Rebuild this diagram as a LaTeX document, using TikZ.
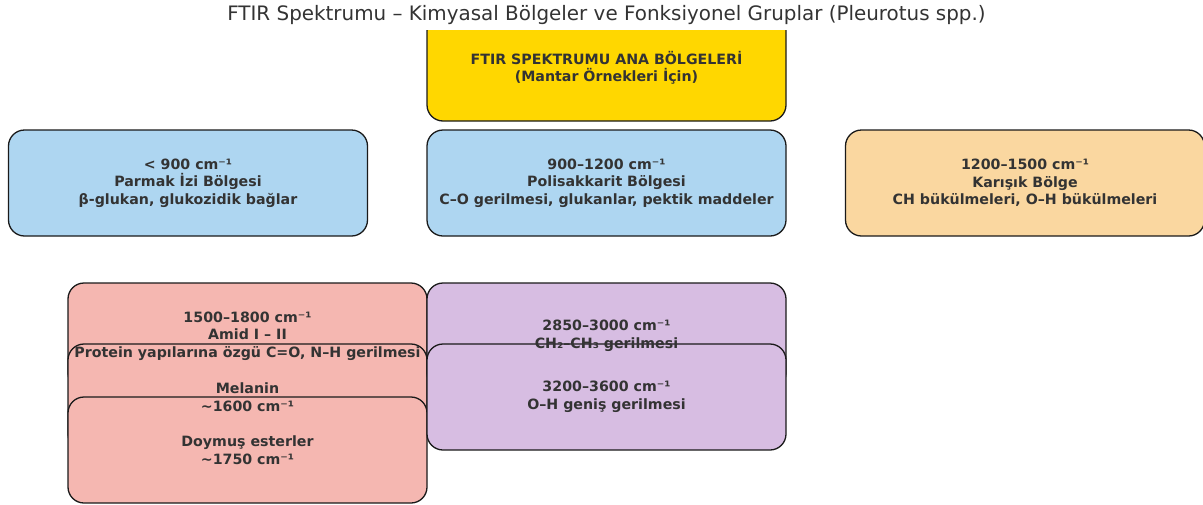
\documentclass[tikz,border=0pt]{standalone}
\usepackage{fontspec}
\setmainfont{DejaVu Sans}
\definecolor{cgold}{HTML}{FFD700}
\definecolor{cblue}{HTML}{AED6F1}
\definecolor{corange}{HTML}{FAD7A0}
\definecolor{cred}{HTML}{F5B7B1}
\definecolor{cpurple}{HTML}{D7BDE2}
\definecolor{cedge}{HTML}{1A1A1A}
\definecolor{ctext}{HTML}{333333}
\tikzset{
  regionbox/.style={rectangle, rounded corners=16pt, minimum width=359pt, minimum height=106pt,
    draw=cedge, line width=1.3pt, inner sep=0pt},
  regionlabel/.style={text=ctext, align=center, font=\bfseries\fontsize{14.2}{17.5}\selectfont, inner sep=0pt},
  titlelabel/.style={text=ctext, font=\fontsize{19.9}{23}\selectfont, inner sep=0pt}
}
\begin{document}
\begin{tikzpicture}[x=1pt,y=-1pt]
\useasboundingbox (0,0) rectangle (1203,504);
\begin{scope}
\clip (0,30) rectangle (1203,504);
\node[regionbox, fill=cgold] (main) at (606.5,68) {};
\node[regionbox, fill=cblue] (fp) at (188,183) {};
\node[regionbox, fill=cblue] (ps) at (606.5,183) {};
\node[regionbox, fill=corange] (mx) at (1025,183) {};
\node[regionbox, fill=cred] (amid) at (247.5,336) {};
\node[regionbox, fill=cred] (mel) at (247.5,397) {};
\node[regionbox, fill=cred] (est) at (247.5,450) {};
\node[regionbox, fill=cpurple] (ch) at (606.5,336) {};
\node[regionbox, fill=cpurple] (oh) at (606.5,397) {};
\end{scope}
\node[titlelabel] (title) at (606.5,15) {FTIR Spektrumu – Kimyasal Bölgeler ve Fonksiyonel Gruplar (Pleurotus spp.)};
\node[regionlabel] (mainl) at (main.center) {FTIR SPEKTRUMU ANA BÖLGELERİ\\(Mantar Örnekleri İçin)};
\node[regionlabel] (fpl) at (fp.center) {< 900 cm⁻¹\\Parmak İzi Bölgesi\\β-glukan, glukozidik bağlar};
\node[regionlabel] (psl) at (ps.center) {900–1200 cm⁻¹\\Polisakkarit Bölgesi\\C–O gerilmesi, glukanlar, pektik maddeler};
\node[regionlabel] (mxl) at (mx.center) {1200–1500 cm⁻¹\\Karışık Bölge\\CH bükülmeleri, O–H bükülmeleri};
\node[regionlabel] (amidl) at (amid.center) {1500–1800 cm⁻¹\\Amid I – II\\Protein yapılarına özgü C=O, N–H gerilmesi};
\node[regionlabel] (mell) at (mel.center) {Melanin\\\textasciitilde1600 cm⁻¹};
\node[regionlabel] (estl) at (est.center) {Doymuş esterler\\\textasciitilde1750 cm⁻¹};
\node[regionlabel] (chl) at (ch.center) {2850–3000 cm⁻¹\\CH₂–CH₃ gerilmesi};
\node[regionlabel] (ohl) at (oh.center) {3200–3600 cm⁻¹\\O–H geniş gerilmesi};
\end{tikzpicture}
\end{document}
